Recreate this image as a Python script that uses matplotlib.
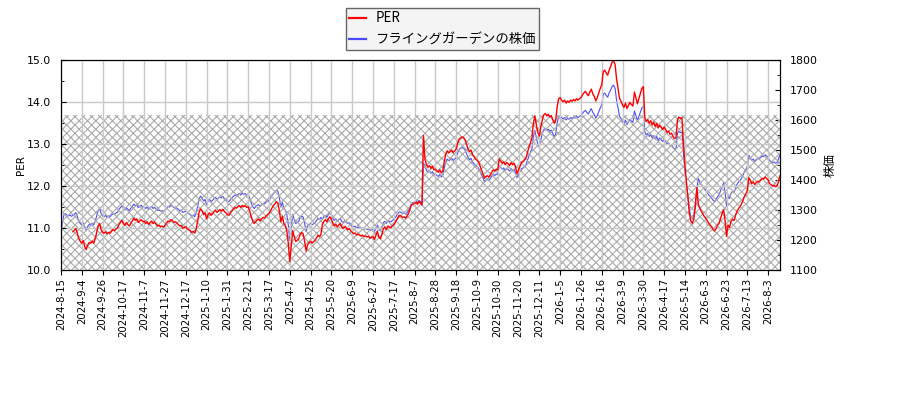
import numpy as np
import matplotlib
matplotlib.use("Agg")
import matplotlib.pyplot as plt
from matplotlib.ticker import MultipleLocator, FormatStrFormatter

# daily close, one value per trading day starting 2024-8-15
price = [
    1217, 1262, 1284, 1288, 1283, 1280, 1284, 1279, 1282, 1286, 1291, 1278, 1262, 1255,
    1250, 1257, 1240, 1232, 1245, 1252, 1250, 1256, 1250, 1262, 1280, 1298, 1305, 1288,
    1280, 1278, 1282, 1276, 1280, 1278, 1283, 1288, 1285, 1290, 1292, 1302, 1308, 1314,
    1305, 1300, 1308, 1302, 1298, 1306, 1312, 1320, 1314, 1318, 1308, 1312, 1316, 1310,
    1312, 1305, 1310, 1302, 1308, 1312, 1305, 1309, 1303, 1298, 1300, 1296, 1298, 1295,
    1300, 1306, 1312, 1310, 1316, 1313, 1308, 1310, 1306, 1302, 1298, 1300, 1292, 1294,
    1296, 1290, 1288, 1285, 1280, 1283, 1278, 1290, 1312, 1338, 1346, 1340, 1330, 1335,
    1318, 1330, 1335, 1328, 1332, 1338, 1342, 1336, 1340, 1344, 1340, 1345, 1338, 1335,
    1330, 1328, 1334, 1340, 1345, 1350, 1348, 1352, 1355, 1350, 1356, 1352, 1355, 1350,
    1352, 1340, 1325, 1312, 1305, 1310, 1315, 1318, 1312, 1318, 1322, 1320, 1326, 1330,
    1333, 1340, 1348, 1355, 1360, 1366, 1362, 1340, 1310, 1325, 1305, 1300, 1285, 1250,
    1198, 1240, 1285, 1268, 1255, 1258, 1262, 1275, 1280, 1276, 1255, 1228, 1245, 1252,
    1255, 1250, 1254, 1258, 1265, 1272, 1268, 1275, 1270, 1278, 1282, 1276, 1285, 1290,
    1284, 1272, 1265, 1270, 1262, 1268, 1272, 1262, 1258, 1264, 1260, 1255, 1258, 1252,
    1248, 1244, 1246, 1240, 1243, 1240, 1238, 1240, 1236, 1238, 1235, 1237, 1232, 1234,
    1236, 1228, 1240, 1250, 1235, 1230, 1242, 1258, 1262, 1255, 1265, 1262, 1260, 1265,
    1268, 1275, 1282, 1290, 1294, 1292, 1288, 1290, 1286, 1292, 1300, 1312, 1322, 1325,
    1326, 1330, 1324, 1332, 1328, 1322, 1455, 1448, 1432, 1425, 1430, 1422, 1428, 1418,
    1420, 1415, 1412, 1418, 1410, 1415, 1440, 1462, 1470, 1464, 1468, 1472, 1465, 1470,
    1475, 1490, 1502, 1505, 1508, 1506, 1500, 1488, 1475, 1468, 1472, 1460, 1455, 1448,
    1445, 1440, 1430, 1418, 1408, 1395, 1400, 1402, 1398, 1405, 1412, 1418, 1415, 1420,
    1418, 1448, 1442, 1436, 1440, 1432, 1438, 1435, 1430, 1438, 1432, 1436, 1425, 1408,
    1418, 1428, 1438, 1440, 1445, 1450, 1465, 1480, 1492, 1505, 1545, 1565, 1540, 1520,
    1510, 1535, 1555, 1568, 1572, 1565, 1570, 1562, 1566, 1555, 1545, 1552, 1590, 1612,
    1615, 1608, 1604, 1608, 1600, 1606, 1602, 1608, 1605, 1610, 1606, 1612, 1608, 1612,
    1615, 1622, 1628, 1632, 1625, 1620, 1630, 1638, 1625, 1618, 1606, 1615, 1628, 1640,
    1650, 1685, 1690, 1682, 1676, 1690, 1700, 1712, 1716, 1705, 1665, 1640, 1612, 1605,
    1595, 1588, 1600, 1585, 1594, 1602, 1596, 1592, 1630, 1615, 1598, 1612, 1625, 1640,
    1645, 1560, 1550, 1555, 1545, 1552, 1540, 1548, 1536, 1545, 1532, 1540, 1535, 1528,
    1535, 1528, 1520, 1524, 1515, 1518, 1508, 1503, 1505, 1555, 1562, 1558, 1560, 1490,
    1430, 1385, 1345, 1300, 1278, 1272, 1285, 1318, 1370, 1405, 1395, 1385, 1378, 1370,
    1365, 1358, 1350, 1345, 1340, 1332, 1328, 1335, 1345, 1350, 1365, 1378, 1390, 1360,
    1312, 1345, 1338, 1355, 1362, 1358, 1372, 1385, 1392, 1398, 1405, 1415, 1428, 1435,
    1445, 1482, 1475, 1465, 1470, 1462, 1468, 1472, 1470, 1476, 1480, 1478, 1484, 1480,
    1475, 1465, 1462, 1458, 1460, 1456, 1458, 1470, 1488,
]

# EPS behind the PER line: first trading-day index it applies from, and value
eps_start = [8, 176, 244, 245, 429]
eps_value = [117.5, 114.5, 110.2, 114.5, 121.5]

tick_labels = [
    "2024-8-15", "2024-9-4", "2024-9-26", "2024-10-17", "2024-11-7", "2024-11-27",
    "2024-12-17", "2025-1-10", "2025-1-31", "2025-2-21", "2025-3-17", "2025-4-7",
    "2025-4-25", "2025-5-20", "2025-6-9", "2025-6-27", "2025-7-17", "2025-8-7",
    "2025-8-28", "2025-9-18", "2025-10-9", "2025-10-30", "2025-11-20", "2025-12-11",
    "2026-1-5", "2026-1-26", "2026-2-16", "2026-3-9", "2026-3-30", "2026-4-17",
    "2026-5-14", "2026-6-3", "2026-6-23", "2026-7-13", "2026-8-3",
]
tick_step = 14  # trading days between labels

per_band = (10.0, 13.7)  # hatched PER range

price = np.array(price, dtype=float)
eps = np.full(len(price), np.nan)
for s, v in zip(eps_start, eps_value):
    eps[s:] = v
per = price / eps
x = np.arange(len(price))

jp = ["Noto Sans CJK JP", "DejaVu Sans"]
plt.rcParams["hatch.linewidth"] = 0.8

fig = plt.figure(figsize=(9, 4), dpi=100)
ax1 = fig.add_axes([61 / 900, 130 / 400, 719 / 900, 210 / 400])
ax2 = ax1.twinx()
# PER line sits above the price line
ax1.set_zorder(ax2.get_zorder() + 1)
ax1.patch.set_visible(False)

ax1.axhspan(*per_band, facecolor="none", edgecolor="#aaaaaa", hatch="xxxx",
            linewidth=0, zorder=0)
l2, = ax2.plot(x, price, color="blue", alpha=0.7, lw=0.8)
l1, = ax1.plot(x, per, color="red", lw=1.0)

ax1.set_xlim(0, len(x) - 1)
ax1.set_ylim(10, 15)
ax2.set_ylim(1100, 1800)

ax1.set_xticks(x[::tick_step])
ax1.set_xticklabels(tick_labels, rotation=90, fontsize=7.3)
ax1.yaxis.set_major_locator(MultipleLocator(1))
ax1.yaxis.set_minor_locator(MultipleLocator(0.5))
ax1.yaxis.set_major_formatter(FormatStrFormatter("%.1f"))
ax2.yaxis.set_major_locator(MultipleLocator(100))
ax2.yaxis.set_minor_locator(MultipleLocator(50))

ax1.tick_params(axis="y", which="both", direction="in", pad=7, labelsize=7.9)
ax2.tick_params(axis="y", which="both", direction="in", pad=7, labelsize=7.9)
ax1.tick_params(axis="x", labelsize=7.3, pad=2.5)

ax1.grid(True, color="#c8c8c8", lw=1.0)

ax1.set_ylabel("PER", fontsize=7.5, labelpad=1)
ax2.set_ylabel("株価", family=jp, fontsize=8.6)

leg = fig.legend([l1, l2], ["PER", "フライングガーデンの株価"], loc="upper left",
                 bbox_to_anchor=(346 / 900, 1 - 8 / 400), borderaxespad=0,
                 prop={"family": jp, "size": 9.6}, fancybox=False,
                 edgecolor="#666666", facecolor="#f4f4f4", framealpha=1,
                 handlelength=1.25, handletextpad=0.7, labelspacing=0.55, borderpad=0.25)
for line in leg.get_lines():
    line.set_linewidth(1.6)

fig.savefig("out.png", dpi=100)
